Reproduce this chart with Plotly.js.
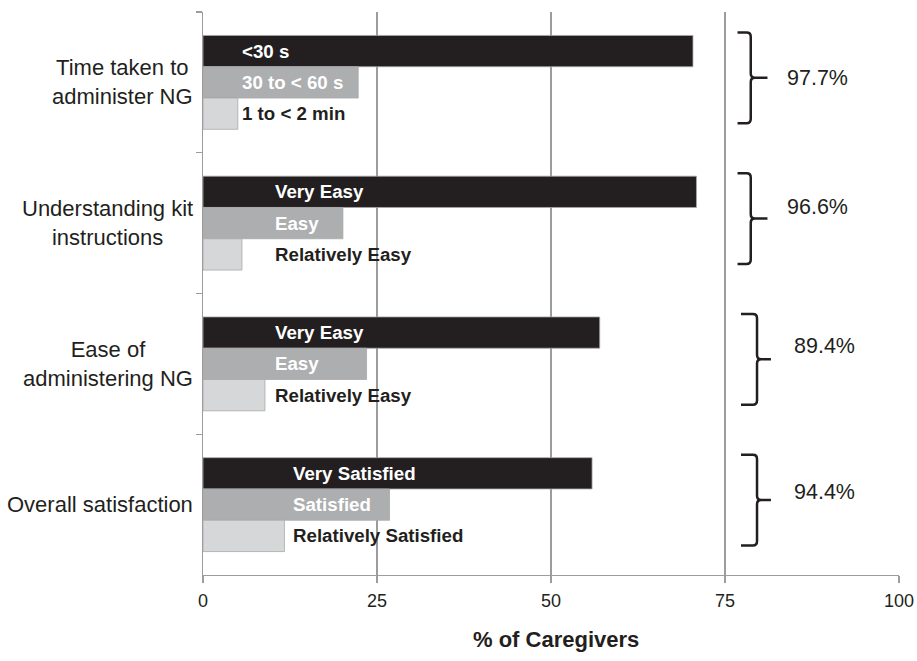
<!DOCTYPE html>
<html>
<head>
<meta charset="utf-8">
<script src="https://cdn.plot.ly/plotly-3.0.1.min.js"></script>
<style>html,body{margin:0;padding:0;background:#fff;}#chart{width:917px;height:661px;}</style>
</head>
<body>
<div id="chart"></div>
<script>
// ---- Data ----
var categories = ['Time taken to administer NG', 'Understanding kit instructions', 'Ease of administering NG', 'Overall satisfaction'];
var categoryLabels = ['Time taken to<br>administer NG', 'Understanding kit<br>instructions', 'Ease of<br>administering NG', 'Overall satisfaction'];
var topValues = [70.4, 70.9, 57.0, 55.9];
var midValues = [22.3, 20.1, 23.5, 26.8];
var lowValues = [5.0, 5.6, 8.9, 11.7];
var topLabels = ['<30 s', 'Very Easy', 'Very Easy', 'Very Satisfied'];
var midLabels = ['30 to < 60 s', 'Easy', 'Easy', 'Satisfied'];
var lowLabels = ['1 to < 2 min', 'Relatively Easy', 'Relatively Easy', 'Relatively Satisfied'];
var xTicks = [0, 25, 50, 75, 100];

// ---- Styling / placement ----
var FONT = '"Liberation Sans", Arial, Helvetica, sans-serif';
var DARK = '#231f20';
var GRID = '#9c9c9c';
var colors = ['#231f20', '#adaeb0', '#d6d7d9'];
var labelColors = ['#ffffff', '#ffffff', '#231f20'];
var labelStartX = [5.3, 10.0, 10.1, 12.7];
var totalTextX = [83.6, 83.6, 84.6, 84.6];
var totalTextDy = [-0.03, -0.115, -0.13, -0.09];
var braceX = [[76.8, 78.7, 81.1], [76.8, 78.7, 81.1], [77.3, 79.6, 81.6], [77.3, 79.6, 81.6]];

var series = [topValues, midValues, lowValues];
var seriesLabels = [topLabels, midLabels, lowLabels];

var traces = series.map(function (vals, k) {
  return {
    type: 'bar', orientation: 'h',
    y: categories, x: vals,
    marker: { color: colors[k], line: { color: '#a8a8a8', width: 0.8 } },
    hoverinfo: 'skip', showlegend: false
  };
});

var groupW = 1 - 0.333;
var barW = groupW / 3;
var annotations = [];
var shapes = [];

categories.forEach(function (c, i) {
  // bar labels
  for (var k = 0; k < 3; k++) {
    annotations.push({
      xref: 'x', yref: 'y', x: labelStartX[i], y: i - groupW / 2 + barW * (k + 0.5),
      xanchor: 'left', yanchor: 'middle', showarrow: false,
      text: '<b>' + seriesLabels[k][i].replace(/</g, '&lt;') + '</b>',
      font: { family: FONT, size: 18.7, color: labelColors[k] }
    });
  }
  // category label
  annotations.push({
    xref: 'paper', yref: 'y', x: 0, y: i, xanchor: 'right', yanchor: 'middle',
    xshift: -8, align: 'center', showarrow: false,
    text: categoryLabels[i],
    font: { family: FONT, size: 22, color: DARK }
  });
  // total percent
  var total = topValues[i] + midValues[i] + lowValues[i];
  annotations.push({
    xref: 'x', yref: 'y', x: totalTextX[i], y: i + totalTextDy[i],
    xanchor: 'left', yanchor: 'middle', showarrow: false,
    text: total.toFixed(1) + '%',
    font: { family: FONT, size: 21.5, color: DARK }
  });
  // brace
  var x0 = braceX[i][0], x1 = braceX[i][1], x2 = braceX[i][2];
  var yT = i - 0.355, yB = i + 0.29, yM = i - 0.033;
  var rx = 0.6, ry = 0.03;
  var p = 'M ' + x0 + ',' + yT + ' L ' + (x1 - rx) + ',' + yT +
    ' Q ' + x1 + ',' + yT + ' ' + x1 + ',' + (yT + ry) +
    ' L ' + x1 + ',' + (yM - ry) +
    ' Q ' + x1 + ',' + yM + ' ' + (x1 + rx) + ',' + yM +
    ' L ' + x2 + ',' + yM +
    ' M ' + (x1 + rx) + ',' + yM +
    ' Q ' + x1 + ',' + yM + ' ' + x1 + ',' + (yM + ry) +
    ' L ' + x1 + ',' + (yB - ry) +
    ' Q ' + x1 + ',' + yB + ' ' + (x1 - rx) + ',' + yB +
    ' L ' + x0 + ',' + yB;
  shapes.push({ type: 'path', xref: 'x', yref: 'y', path: p, line: { color: DARK, width: 2.5 } });
});

// x-axis title (slightly right of centre, as in the original)
annotations.push({
  xref: 'paper', yref: 'paper', x: 0.5, y: 0, xshift: 5, yshift: -64,
  xanchor: 'center', yanchor: 'middle', showarrow: false,
  text: '<b>% of Caregivers</b>',
  font: { family: FONT, size: 22, color: DARK }
});

var layout = {
  width: 917, height: 661,
  margin: { l: 203, r: 18, t: 12, b: 86 },
  paper_bgcolor: '#ffffff', plot_bgcolor: '#ffffff',
  barmode: 'group', bargap: 0.333, bargroupgap: 0,
  font: { family: FONT, color: DARK },
  xaxis: {
    range: [0, 100], tickvals: xTicks, ticktext: xTicks.map(String),
    showgrid: true, gridcolor: GRID, gridwidth: 1.3, zeroline: false,
    showline: true, linecolor: GRID, linewidth: 1.3,
    ticks: 'outside', ticklen: 7, tickcolor: GRID, tickwidth: 1.3,
    tickfont: { family: FONT, size: 18, color: DARK },
    ticklabelstandoff: 2,
    fixedrange: true
  },
  yaxis: {
    type: 'category', categoryorder: 'array', categoryarray: categories,
    range: [3.5, -0.5], showticklabels: false,
    ticks: 'outside', tickson: 'boundaries', ticklen: 6, tickcolor: GRID, tickwidth: 1.3,
    showgrid: false, zeroline: false, showline: true, linecolor: GRID, linewidth: 1.3,
    fixedrange: true
  },
  annotations: annotations,
  shapes: shapes
};

Plotly.newPlot('chart', traces, layout, { displayModeBar: false, staticPlot: true });
</script>
</body>
</html>
